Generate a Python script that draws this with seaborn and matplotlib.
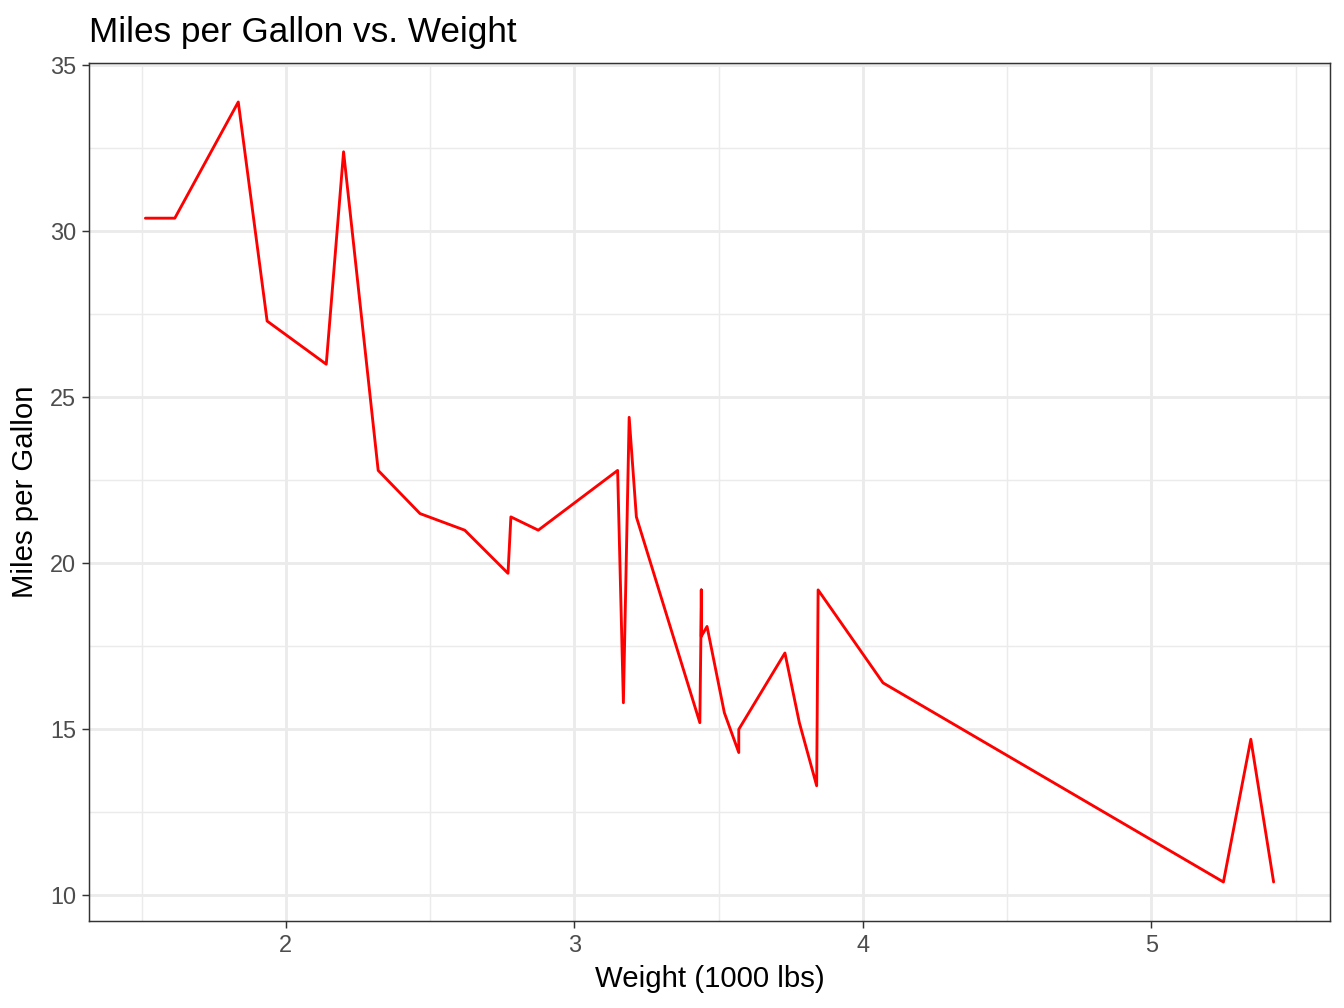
import numpy as np
import pandas as pd
import matplotlib
matplotlib.use("Agg")
import matplotlib.pyplot as plt
import seaborn as sns
from matplotlib.ticker import MultipleLocator

# mtcars weight (1000 lbs) and mpg, in the data's original row order
car_wt = [2.620, 2.875, 2.320, 3.215, 3.440, 3.460, 3.570, 3.190, 3.150, 3.440,
          3.440, 4.070, 3.730, 3.780, 5.250, 5.424, 5.345, 2.200, 1.615, 1.835,
          2.465, 3.520, 3.435, 3.840, 3.845, 1.935, 2.140, 1.513, 3.170, 2.770,
          3.570, 2.780]
car_mpg = [21.0, 21.0, 22.8, 21.4, 18.7, 18.1, 14.3, 24.4, 22.8, 19.2,
           17.8, 16.4, 17.3, 15.2, 10.4, 10.4, 14.7, 32.4, 30.4, 33.9,
           21.5, 15.5, 15.2, 13.3, 19.2, 27.3, 26.0, 30.4, 15.8, 19.7,
           15.0, 21.4]

df = pd.DataFrame({"wt": car_wt, "mpg": car_mpg})
df = df.sort_values("wt", kind="mergesort").reset_index(drop=True)

sns.set_theme(style="white")
plt.rcParams['font.family'] = ['Liberation Sans', 'DejaVu Sans']

fig = plt.figure(figsize=(7, 5.25), dpi=192)
ax = fig.add_axes([0.0662, 0.0863, 0.9234, 0.8512])

sns.lineplot(data=df, x="wt", y="mpg", estimator=None, sort=False,
             color="#FF0000", linewidth=1.07, ax=ax)

x0, x1 = df.wt.min(), df.wt.max()
y0, y1 = df.mpg.min(), df.mpg.max()
ax.set_xlim(x0 - 0.05 * (x1 - x0), x1 + 0.05 * (x1 - x0))
ax.set_ylim(y0 - 0.05 * (y1 - y0), y1 + 0.05 * (y1 - y0))

ax.xaxis.set_major_locator(MultipleLocator(1))
ax.xaxis.set_minor_locator(MultipleLocator(0.5))
ax.yaxis.set_major_locator(MultipleLocator(5))
ax.yaxis.set_minor_locator(MultipleLocator(2.5))

ax.set_facecolor("white")
ax.grid(which="major", color="#EBEBEB", linewidth=1.07)
ax.grid(which="minor", color="#EBEBEB", linewidth=0.53)
ax.set_axisbelow(True)
for s in ax.spines.values():
    s.set_color("#333333")
    s.set_linewidth(0.55)

ax.tick_params(which="major", length=2.75, width=0.55, color="#333333",
               labelsize=8.8, labelcolor="#4D4D4D", pad=2.2,
               bottom=True, left=True)
ax.tick_params(which="minor", length=0, bottom=False, left=False)

ax.set_xlabel("Weight (1000 lbs)", fontsize=11, color="black", labelpad=3)
ax.set_ylabel("Miles per Gallon", fontsize=11, color="black", labelpad=4)
ax.set_title("Miles per Gallon vs. Weight", fontsize=13.2, loc="left",
             color="black", pad=8)

fig.savefig("out.png", dpi=192)
